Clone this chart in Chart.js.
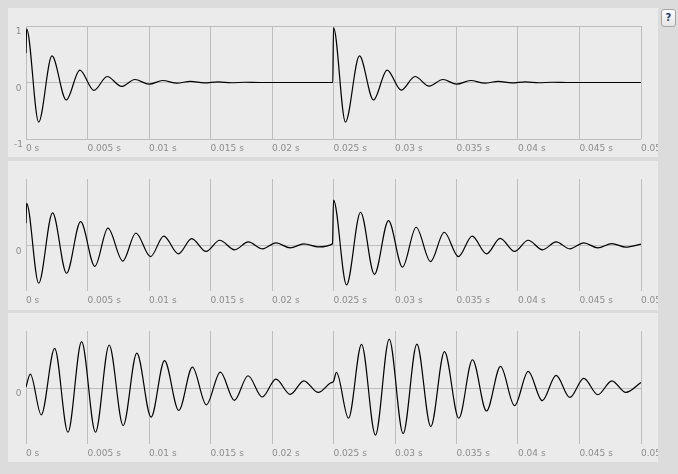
<!DOCTYPE html>
<html>
<head>
<meta charset="utf-8">
<script src="https://cdn.jsdelivr.net/npm/chart.js@4.4.0/dist/chart.umd.min.js"></script>
<style>
  html, body { margin:0; padding:0; background:#dcdcdc; width:678px; height:474px; overflow:hidden; }
  .panel { position:absolute; left:8px; width:650px; height:149px; background:#ebebeb; overflow:hidden; }
  .panel canvas { position:absolute; left:0; top:0; }
  #help { position:absolute; left:661px; top:9px; width:13px; height:16px; border:1px solid #a3a3a3; border-radius:3px;
          background:linear-gradient(#ffffff,#e4e4e4); font:bold 10px "DejaVu Sans", sans-serif; color:#1f3a6e;
          text-align:center; line-height:16px; }
</style>
</head>
<body>
<div class="panel" style="top:8px"><canvas id="c1" width="673" height="149"></canvas></div>
<div class="panel" style="top:161px"><canvas id="c2" width="673" height="149"></canvas></div>
<div class="panel" style="top:313px"><canvas id="c3" width="673" height="149"></canvas></div>
<div id="help">?</div>
<script>
// ---- shared axis data ----
const xTickValues = [0, 0.005, 0.01, 0.015, 0.02, 0.025, 0.03, 0.035, 0.04, 0.045, 0.05];
const xTickLabels = ['0 s', '0.005 s', '0.01 s', '0.015 s', '0.02 s', '0.025 s', '0.03 s', '0.035 s', '0.04 s', '0.045 s', '0.05 s'];
const yTicks1 = [-1, 0, 1];
const yLabels1 = ['-1', '0', '1'];
const yTicksZero = [0];
const yLabelsZero = ['0'];

// ---- panel 1: strongly damped ringing (time s, amplitude) ----
const time1 = [0, 0.00005, 0.00103, 0.00211, 0.00327, 0.00438, 0.00552, 0.0066, 0.00777, 0.00885, 0.01001, 0.01112,
  0.01226, 0.01337, 0.0145, 0.0156, 0.0167, 0.0178, 0.019, 0.02494,
  0.025, 0.02597, 0.02711, 0.02825, 0.02936, 0.0305, 0.03163, 0.03277, 0.0339, 0.03501, 0.03615,
  0.0373, 0.0384, 0.0395, 0.0406, 0.0417, 0.0428, 0.044, 0.05];
const signal1 = [0.52, 0.95, -0.70, 0.47, -0.31, 0.22, -0.14, 0.106, -0.07, 0.053, -0.03, 0.035,
  -0.012, 0.02, -0.008, 0.01, -0.004, 0.004, 0, 0,
  0.97, -0.70, 0.47, -0.31, 0.22, -0.135, 0.106, -0.065, 0.053, -0.03, 0.035,
  -0.012, 0.02, -0.008, 0.01, -0.004, 0.004, 0, 0];

// ---- panel 2: lightly damped ringing ----
const time2 = [0, 0.00005, 0.00103, 0.00216, 0.0033, 0.00444, 0.0056, 0.00666, 0.00787, 0.00893, 0.01012, 0.0112,
  0.01239, 0.01347, 0.01464, 0.01575, 0.01696, 0.01807, 0.01924, 0.02032, 0.02148, 0.02259, 0.02378, 0.02492,
  0.025, 0.02606, 0.0272, 0.02833, 0.02947, 0.03061, 0.03172, 0.03289, 0.034, 0.03516, 0.03627, 0.03744,
  0.03855, 0.03972, 0.04083, 0.04199, 0.0431, 0.04421, 0.04535, 0.04649, 0.04763, 0.04877, 0.05];
const signal2 = [0.40, 0.76, -0.68, 0.59, -0.50, 0.43, -0.375, 0.315, -0.28, 0.226, -0.20, 0.17,
  -0.15, 0.125, -0.107, 0.095, -0.077, 0.065, -0.06, 0.048, -0.042, 0.03, -0.024, 0.03,
  0.82, -0.71, 0.60, -0.52, 0.45, -0.39, 0.33, -0.29, 0.24, -0.20, 0.17, -0.15,
  0.13, -0.107, 0.095, -0.077, 0.065, -0.06, 0.048, -0.042, 0.036, -0.03, 0.024];

// ---- panel 3: build-up then decay ----
const time3 = [0, 0.00035, 0.00124, 0.00233, 0.00341, 0.00452, 0.00565, 0.00676, 0.0079, 0.00901, 0.01017, 0.01126,
  0.01242, 0.01353, 0.01466, 0.0158, 0.01694, 0.01805, 0.01921, 0.02032, 0.02148, 0.02259, 0.02376, 0.02475, 0.025,
  0.02524, 0.02622, 0.02728, 0.02841, 0.02953, 0.03066, 0.03178, 0.03291, 0.03402, 0.03519, 0.0363, 0.03744,
  0.03858, 0.03972, 0.04083, 0.04197, 0.0431, 0.04421, 0.04535, 0.04649, 0.04763, 0.04877, 0.05];
const signal3 = [0.02, 0.25, -0.48, 0.71, -0.79, 0.83, -0.79, 0.77, -0.67, 0.625, -0.52, 0.49,
  -0.40, 0.375, -0.30, 0.286, -0.22, 0.22, -0.16, 0.16, -0.113, 0.13, -0.077, 0.09, 0.12,
  0.28, -0.54, 0.78, -0.84, 0.875, -0.815, 0.786, -0.69, 0.65, -0.54, 0.506, -0.41,
  0.387, -0.315, 0.30, -0.226, 0.226, -0.167, 0.173, -0.12, 0.13, -0.077, 0.10];

const GRID = '#bebebe';
const TEXT = '#8c8c8c';
const FONT = { family: 'DejaVu Sans', size: 9 };

function makeChart(id, times, values, yMin, yMax, yTicks, yLabels, yPad, xAxisH) {
  new Chart(document.getElementById(id), {
    type: 'line',
    data: {
      datasets: [{
        data: times.map((t, i) => ({ x: t, y: values[i] })),
        borderColor: '#000',
        borderWidth: 1.2,
        pointRadius: 0,
        fill: false,
        cubicInterpolationMode: 'monotone'
      }]
    },
    options: {
      responsive: false,
      animation: false,
      events: [],
      layout: { padding: { top: 18, right: 40, left: 0, bottom: 0 } },
      plugins: { legend: { display: false }, tooltip: { enabled: false } },
      scales: {
        x: {
          type: 'linear', min: 0, max: 0.05,
          afterBuildTicks: s => { s.ticks = xTickValues.map(v => ({ value: v })); },
          afterFit: s => { s.height = xAxisH; },
          grid: { color: GRID, drawTicks: false, lineWidth: 1 },
          border: { display: false },
          ticks: { align: 'start', maxRotation: 0, autoSkip: false, padding: 4, color: TEXT, font: FONT,
                   callback: (v, i) => xTickLabels[i] }
        },
        y: {
          type: 'linear', min: yMin, max: yMax,
          afterBuildTicks: s => { s.ticks = yTicks.map(v => ({ value: v })); },
          afterFit: s => { s.width = 18; },
          grid: { color: GRID, drawTicks: false, lineWidth: 1 },
          border: { display: false },
          ticks: { crossAlign: 'center', padding: yPad, labelOffset: 6, color: TEXT, font: FONT,
                   callback: (v, i) => yLabels[i] }
        }
      }
    }
  });
}

makeChart('c1', time1, signal1, -1, 1, yTicks1, yLabels1, 3, 18);
makeChart('c2', time2, signal2, -0.82, 1.2, yTicksZero, yLabelsZero, 4.5, 19);
makeChart('c3', time3, signal3, -1, 1.02, yTicksZero, yLabelsZero, 4.5, 18);
</script>
</body>
</html>
